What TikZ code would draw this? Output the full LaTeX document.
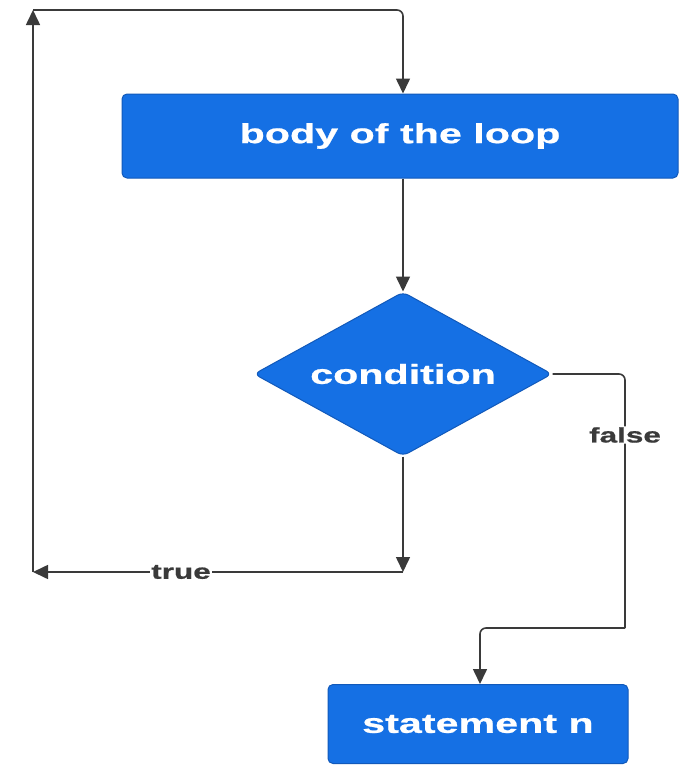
\documentclass[tikz,border=0pt]{standalone}
\usepackage{fontspec}
\setmainfont{Liberation Sans}
\newfontfamily\widesans[FakeStretch=1.5,FakeBold=0.8]{Liberation Sans}
\usetikzlibrary{arrows.meta,shapes.geometric}
\definecolor{boxblue}{HTML}{1570E4}
\definecolor{boxedge}{HTML}{1159BA}
\definecolor{linegray}{HTML}{3A3A3A}
\tikzset{
  flowbox/.style={draw=boxedge, line width=1pt, fill=boxblue, rounded corners=5pt,
    text=white, inner sep=0pt, font=\widesans\bfseries\fontsize{27.5}{27.5}\selectfont},
  decision/.style={draw=boxedge, line width=1pt, fill=boxblue, diamond, aspect=1.8,
    rounded corners=6pt, text=white, inner sep=0pt,
    font=\widesans\bfseries\fontsize{27.5}{27.5}\selectfont},
  link/.style={draw=linegray, line width=1.6pt, rounded corners=6pt,
    -{Triangle[length=15pt,width=14pt]}},
  plain/.style={draw=linegray, line width=1.6pt, rounded corners=6pt},
  edgelabel/.style={fill=white, inner sep=1pt, text=linegray,
    font=\widesans\bfseries\fontsize{21}{21}\selectfont}
}
\begin{document}
\begin{tikzpicture}[x=1pt, y=-1pt]
  \useasboundingbox[fill=white] (0,0) rectangle (680,766);

  % process boxes and the decision
  \node[flowbox, minimum width=556pt, minimum height=84pt] (body) at (400,136) {body of the loop};
  \node[decision, minimum width=298pt, minimum height=164pt] (cond) at (403,374) {condition};
  \node[flowbox, minimum width=300pt, minimum height=79pt] (stmt) at (478,724) {statement n};

  % corner points of the loop-back path
  \coordinate (tdown) at (403,572);
  \coordinate (tleft) at (33,572);
  \coordinate (ttop)  at (33,10);
  \coordinate (fright) at (625,374);
  \coordinate (fbend) at (625,628);

  % body to condition
  \draw[link] (body.south -| 403,0) -- (cond.north);

  % true branch: down, left, up and back into the body
  \draw[link] (cond.south) -- (tdown);
  \draw[link] (tdown) -- node[edgelabel, pos=0.6] (tlab) {true} (tleft);
  \draw[link] (tleft) -- (ttop);
  \draw[link] (ttop) -- (403,10) -- (body.north -| 403,0);

  % false branch down to the statement
  \draw[plain] (cond.east) -- (fright) -- node[edgelabel, pos=0.24] (flab) {false} (fbend);
  \draw[link] (fbend) -- (480,628) -- (stmt.north -| 480,0);
\end{tikzpicture}
\end{document}
